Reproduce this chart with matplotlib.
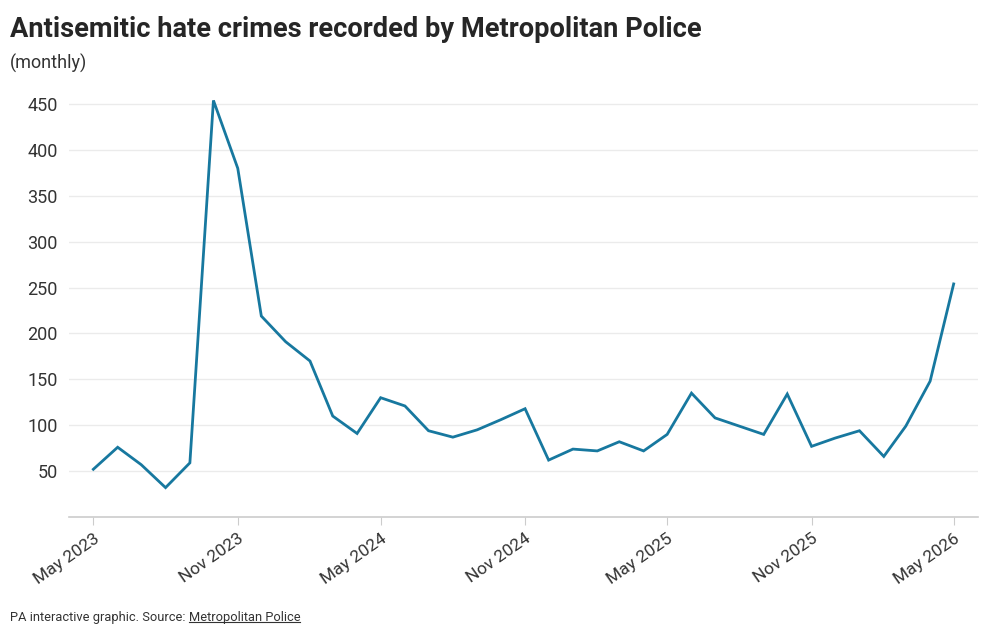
import numpy as np
import pandas as pd
import matplotlib
matplotlib.use('Agg')
import matplotlib.pyplot as plt
import matplotlib.dates as mdates

plt.rcParams['font.family'] = ['Roboto', 'DejaVu Sans']

# monthly counts, May 2023 .. May 2026
months = pd.date_range('2023-05-01', periods=37, freq='MS')
crimes = [52, 76, 57, 32, 59, 454, 380, 219, 191, 170, 110, 91,
          130, 121, 94, 87, 95, 106, 118, 62, 74, 72, 82, 72,
          90, 135, 108, 99, 90, 134, 77, 86, 94, 66, 99, 148, 254]

y_ticks = [50, 100, 150, 200, 250, 300, 350, 400, 450]
x_ticks = pd.date_range('2023-05-01', '2026-05-01', freq='6MS')

line_color = '#17789f'
text_color = '#333333'
grid_color = '#ebebeb'

fig = plt.figure(figsize=(10, 6.37), dpi=100)
ax = fig.add_axes([0.069, 0.1884, 0.909, 0.6626])

ax.plot(months, crimes, color=line_color, lw=2.0, solid_joinstyle='miter')

ax.set_ylim(0, 460)
ax.set_xlim(months[0] - pd.Timedelta(days=31), months[-1] + pd.Timedelta(days=31))
ax.set_yticks(y_ticks)
ax.set_xticks(x_ticks)
ax.xaxis.set_major_formatter(mdates.DateFormatter('%b %Y'))

ax.grid(axis='y', color=grid_color, lw=1)
ax.set_axisbelow(True)
for s in ['top', 'right', 'left']:
    ax.spines[s].set_visible(False)
ax.spines['bottom'].set_color('#cccccc')
ax.spines['bottom'].set_linewidth(1.2)

ax.tick_params(axis='y', length=0, pad=8, labelsize=13, labelcolor=text_color)
ax.tick_params(axis='x', length=6, color='#cccccc', pad=4, labelsize=12.5, labelcolor=text_color)
for lab in ax.get_xticklabels():
    lab.set_rotation(35)
    lab.set_ha('right')
    lab.set_rotation_mode('anchor')

fig.text(0.010, 0.953, 'Antisemitic hate crimes recorded by Metropolitan Police',
         fontsize=19.6, fontweight='bold', color='#262626', va='center', ha='left')
fig.text(0.010, 0.901, '(monthly)', fontsize=13, color=text_color, va='center', ha='left')

# footer with underlined source
src = fig.text(0.010, 0.031, 'PA interactive graphic. Source: ', fontsize=9.3,
               color=text_color, va='center', ha='left')
fig.canvas.draw()
r = fig.canvas.get_renderer()
bb = src.get_window_extent(r).transformed(fig.transFigure.inverted())
link = fig.text(bb.x1, 0.031, 'Metropolitan Police', fontsize=9.3,
                color=text_color, va='center', ha='left')
bb2 = link.get_window_extent(r).transformed(fig.transFigure.inverted())
fig.add_artist(plt.Line2D([bb2.x0, bb2.x1], [bb2.y0 + 0.002, bb2.y0 + 0.002],
                          transform=fig.transFigure, color=text_color, lw=0.8))

fig.savefig('out.png', dpi=100, facecolor='white')
